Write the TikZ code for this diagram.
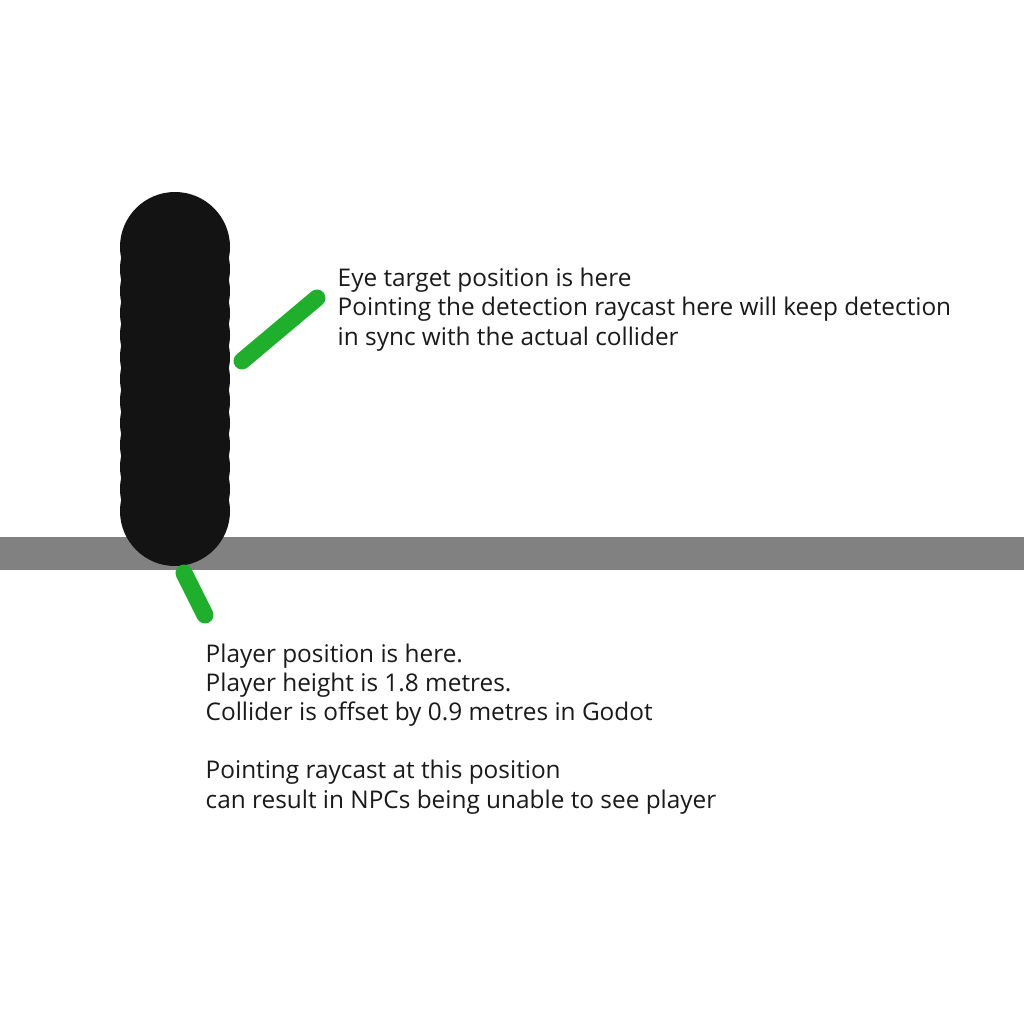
\documentclass[tikz,border=0pt]{standalone}
\usepackage{fontspec}
\setmainfont{Open Sans}
\definecolor{playerblack}{HTML}{131313}
\definecolor{groundgrey}{HTML}{818181}
\definecolor{pointergreen}{HTML}{1FAF2C}
\definecolor{notetext}{HTML}{1A1A1A}
\tikzset{
  pointer/.style={line width=17*0.2845pt, line cap=round, pointergreen},
  note/.style={anchor=base west, inner sep=0pt, align=left, text=notetext,
    font=\fontsize{6.93pt}{8.25pt}\selectfont}
}
\begin{document}
\begin{tikzpicture}[x=0.01cm, y=-0.01cm]
    \useasboundingbox[fill=white] (0, 0) rectangle (1024, 1024);
    % ground
    \fill[groundgrey] (0, 537) rectangle (1024, 570);
    % player collider
    \foreach \k in {0,...,12}
      \fill[playerblack] (175, 247+\k*22) circle (55);
    % notes (placed by the baseline of their last line)
    \node[note] (eyenote) at (337, 345) {Eye target position is here\\Pointing the detection raycast here will keep detection\\in sync with the actual collider};
    \node[note] (feetnote) at (205, 808) {Player position is here.\\Player height is 1.8 metres.\\Collider is offset by 0.9 metres in Godot\\[8.25pt]Pointing raycast at this position\\can result in NPCs being unable to see player};
    % pointers
    \coordinate (eyetip) at (242, 361);
    \coordinate (eyeend) at (317, 298);
    \coordinate (feettip) at (184, 573);
    \coordinate (feetend) at (205, 615);
    \draw[pointer] (eyeend) -- (eyetip);
    \draw[pointer] (feetend) -- (feettip);
\end{tikzpicture}
\end{document}
